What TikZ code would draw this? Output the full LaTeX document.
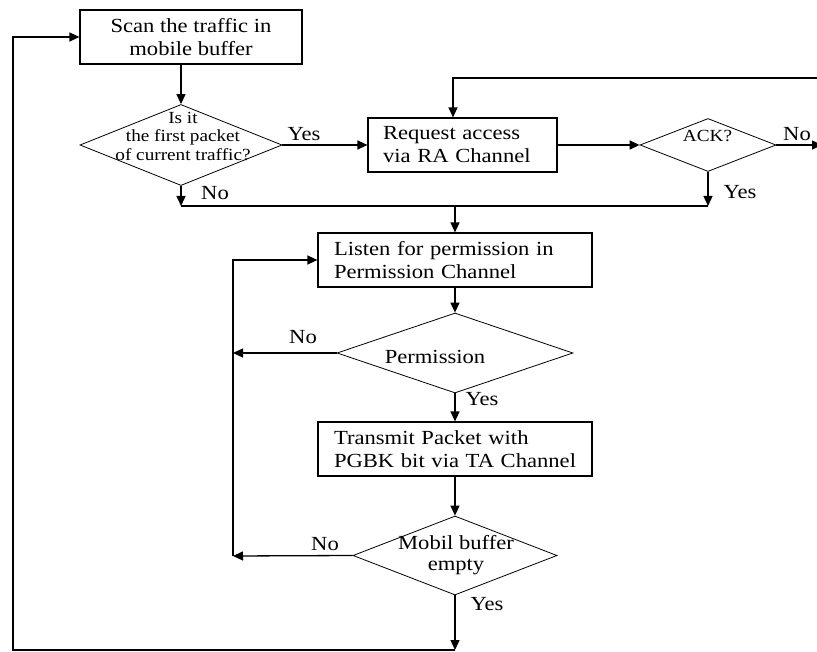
\documentclass[tikz,border=0pt]{standalone}
\usepackage{fontspec}
\setmainfont{Liberation Serif}[FakeStretch=1.13]
\usetikzlibrary{arrows.meta,shapes.geometric}

\begin{document}
\begin{tikzpicture}[x=1pt, y=-1pt,
  stepbox/.style={draw, line width=1.2pt, minimum height=54pt, inner sep=0pt, font=\fontsize{20}{23}\selectfont},
  query/.style={draw, diamond, line width=0.8pt, inner sep=0pt},
  note/.style={align=center, inner sep=0pt, font=\fontsize{20}{21}\selectfont},
  small/.style={font=\fontsize{17}{18.5}\selectfont},
  tag/.style={inner sep=0pt, font=\fontsize{20}{23}\selectfont},
  wire/.style={line width=1.3pt},
  flow/.style={wire, -{Triangle[length=10pt,width=9pt]}}
]
\useasboundingbox (0,0) rectangle (817,652);

\node[stepbox, minimum width=222pt, align=center] (scan) at (191,37) {Scan the traffic in\\mobile buffer};
\node[query, minimum width=202pt, minimum height=81pt] (first) at (181,145) {};
\node[note, small] (first-txt) at (183,136) {Is it\\the first packet\\of current traffic?};
\node[stepbox, text width=159pt, inner xsep=15pt, align=left] (req) at (462.5,145) {Request access\\via RA Channel};
\node[query, minimum width=136pt, minimum height=53pt] (ack) at (708,145) {};
\node[note, small] (ack-txt) at (707.5,136) {ACK?};
\node[stepbox, text width=242pt, inner xsep=16pt, align=left] (listen) at (455,260) {Listen for permission in\\Permission Channel};
\node[query, minimum width=236pt, minimum height=80pt] (perm) at (455,353) {};
\node[note] (perm-txt) at (435,357) {Permission};
\node[stepbox, text width=242pt, inner xsep=16pt, align=left] (trans) at (455,449) {Transmit Packet with\\\mbox{PGBK bit via TA Channel}};
\node[query, minimum width=204pt, minimum height=79pt] (mobil) at (455,555.5) {};
\node[note] (mobil-txt) at (456,555) {Mobil buffer\\empty};

\coordinate (join) at (181,206);
\coordinate (ackjoin) at (708,206);
\coordinate (down) at (455,206);
\coordinate (ackout) at (822,145);
\coordinate (ackback) at (822,78);
\coordinate (reqtop) at (453,78);
\coordinate (permno) at (233,353);
\coordinate (mobilno) at (233,556);
\coordinate (bottom) at (455,650);
\coordinate (corner) at (13,650);

\draw[flow] (first.north |- scan.south) -- (first.north);
\draw[flow] (first.east) -- (first.east -| req.west);
\draw[flow] (first.south) -- (join);
\draw[wire] (join) -- (ackjoin);
\draw[flow] (ack.south) -- (ackjoin);
\draw[flow] (down) -- (down |- listen.north);
\draw[flow] (req.east) -- (ack.west);
\draw[flow] (ack.east) -- (ackout);
\draw[flow] (ackback) -- (reqtop) -- (reqtop |- req.north);
\draw[flow] (listen.south) -- (perm.north);
\draw[flow] (perm.west) -- (permno);
\draw[flow] (perm.south) -- (trans.north);
\draw[flow] (trans.south) -- (mobil.north);
\draw[flow] (mobil.west) -- (mobilno);
\draw[flow] (mobilno) -- (mobilno |- listen.west) -- (listen.west);
\draw[flow] (mobil.south) -- (bottom);
\draw[flow] (bottom) -- (corner) -- (corner |- scan.west) -- (scan.west);

\node[tag] (yes-first) at (304,134) {Yes};
\node[tag] (no-first) at (215,193) {No};
\node[tag] (no-ack) at (797,134) {No};
\node[tag] (yes-ack) at (740,192) {Yes};
\node[tag] (no-perm) at (303,337) {No};
\node[tag] (yes-perm) at (482,399) {Yes};
\node[tag] (no-mobil) at (325,544) {No};
\node[tag] (yes-mobil) at (487,604) {Yes};
\end{tikzpicture}
\end{document}
